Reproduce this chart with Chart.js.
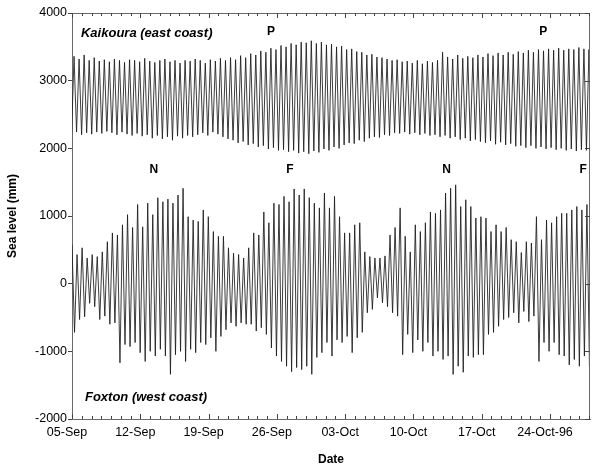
<!DOCTYPE html>
<html>
<head>
<meta charset="utf-8">
<script src="https://cdn.jsdelivr.net/npm/chart.js@4/dist/chart.umd.min.js"></script>
<style>
  html, body { margin: 0; padding: 0; background: #fff; }
  #wrap { width: 600px; height: 467px; }
</style>
</head>
<body>
<div id="wrap"><canvas id="c" width="600" height="467"></canvas></div>
<script>
// ---------- DATA ----------
// x axis: days since 05-Sep-1996 00:00
const dateTickDays   = [0, 7, 14, 21, 28, 35, 42, 49];
const dateTickLabels = ['05-Sep', '12-Sep', '19-Sep', '26-Sep', '03-Oct', '10-Oct', '17-Oct', '24-Oct-96'];
const levelTicks     = [-2000, -1000, 0, 1000, 2000, 3000, 4000];

// semidiurnal tide: one high and one low per tidal cycle
const tidalPeriodDays = 0.5175;
const foxtonFirstHighDay = 0.0;
const kaikouraFirstLowDay = -0.05;

// Foxton (west coast): successive high waters (mm)
const foxtonHigh = [
  575, 430, 530, 380, 430, 400, 470, 620, 750, 720,
  870, 1020, 830, 1170, 840, 1190, 1020, 1270, 1210, 1250,
  1190, 1310, 1410, 990, 940, 920, 1090, 990, 770, 700,
  700, 530, 450, 430, 380, 530,
  750, 720, 1060, 900, 1190, 1170, 1290, 1210, 1400, 1310,
  1400, 1270, 1190, 1120, 1340, 1120, 1290, 990, 750, 750,
  870, 900, 470, 400, 380, 380, 410, 720, 830, 1120,
  700, 470, 870, 770, 900, 1060, 1040, 1090, 1340, 1410,
  1460, 1140, 1240, 1140, 970, 990, 970, 770, 870, 770,
  830, 650, 620, 460, 620, 600, 990, 650, 940, 900,
  990, 1040, 1040, 1090, 1140, 1090, 1170, 1150
];
// Foxton: successive low waters (mm)
const foxtonLow = [
  -720, -530, -490, -290, -340, -530, -480, -600, -580, -1170,
  -900, -930, -870, -1020, -1150, -1000, -1070, -970, -1070, -1340,
  -1050, -1000, -1150, -970, -1020, -870, -900, -800, -1000, -780,
  -680, -580, -630, -580, -600,
  -600, -700, -650, -750, -950, -1070, -1150, -1220, -1300, -1240,
  -1270, -1220, -1340, -1090, -1020, -870, -1070, -830, -870, -780,
  -1020, -800, -720, -430, -380, -210, -280, -340, -430, -480, -1050, -750, -1020,
  -830, -1000, -870, -1070, -1000, -1120, -1070, -1340, -1220, -1310,
  -1070, -1090, -1050, -1050, -750, -720, -630, -530, -500, -430,
  -580, -410, -560, -480, -1150, -870, -1000, -870, -1050, -1070,
  -1200, -1120, -1220, -1070, -1220, -1150
];

// Kaikoura (east coast): successive low waters (mm)
const kaikouraLow = [
  2170, 2240, 2200, 2230, 2210, 2240,
  2220, 2250, 2230, 2200, 2240, 2210,
  2190, 2220, 2180, 2200, 2150, 2190,
  2140, 2170, 2120, 2180, 2150, 2190,
  2170, 2200, 2230, 2190, 2240, 2210,
  2170, 2140, 2120, 2080, 2100, 2050,
  2070, 2020, 2040, 1990, 2010, 1970,
  1980, 1950, 1970, 1930, 1950, 1920,
  1960, 1940, 1990, 1970, 2020, 2000,
  2050, 2080, 2070, 2120, 2100, 2150,
  2170, 2160, 2200, 2190, 2230, 2220,
  2240, 2210, 2230, 2200, 2220, 2190,
  2200, 2170, 2190, 2150, 2170, 2130,
  2150, 2110, 2130, 2100, 2080, 2110,
  2060, 2090, 2050, 2070, 2030, 2040,
  2010, 2040, 2000, 2020, 1990, 2010,
  1980, 2000, 1970, 1990, 1960, 1980,
  1970, 1950
];
// Kaikoura: successive high waters (mm)
const kaikouraHigh = [
  3360, 3320, 3380, 3300, 3340, 3290,
  3310, 3280, 3320, 3300, 3270, 3310,
  3300, 3280, 3330, 3290, 3270, 3300,
  3320, 3280, 3300, 3260, 3300, 3290,
  3320, 3300, 3260, 3310, 3290, 3330,
  3300, 3340, 3310, 3370, 3340, 3400,
  3380, 3440, 3420, 3480, 3460, 3520,
  3500, 3550, 3530, 3570, 3560, 3590,
  3550, 3570, 3530, 3540, 3500, 3510,
  3460, 3470, 3430, 3420, 3380, 3390,
  3350, 3340, 3320, 3300, 3310, 3280,
  3290, 3260, 3300, 3250, 3290, 3270,
  3300, 3420, 3350, 3320, 3380, 3330,
  3360, 3340, 3380, 3350, 3400, 3370,
  3410, 3380, 3420, 3390, 3430, 3410,
  3450, 3420, 3460, 3440, 3470, 3450,
  3480, 3450, 3470, 3460, 3490, 3470,
  3460, 3480
];

// annotations
const stationLabels = [
  { text: 'Kaikoura (east coast)', day: 0.92, level: 3705 },
  { text: 'Foxton (west coast)',   day: 1.33, level: -1675 }
];
const phaseLabels = [
  { text: 'P', day: 20.4, level: 3720 },
  { text: 'P', day: 48.3, level: 3720 },
  { text: 'N', day: 8.4,  level: 1680 },
  { text: 'F', day: 22.35, level: 1680 },
  { text: 'N', day: 38.4, level: 1680 },
  { text: 'F', day: 52.4, level: 1680 }
];

// ---------- BUILD ----------
function alternate(t0, first, second) {
  const pts = [];
  const half = tidalPeriodDays / 2;
  for (let k = 0; k < first.length; k++) {
    pts.push({ x: t0 + k * tidalPeriodDays, y: first[k] });
    if (k < second.length) pts.push({ x: t0 + k * tidalPeriodDays + half, y: second[k] });
  }
  return pts;
}

const AXIS = '#6a6a6a';
const FONT = '"Liberation Sans", Arial, sans-serif';

const framePlugin = {
  id: 'frame',
  afterDatasetsDraw(chart) {
    const { ctx, chartArea: a, scales: { x, y } } = chart;
    ctx.save();
    ctx.strokeStyle = AXIS;
    ctx.lineWidth = 1;
    ctx.beginPath();
    ctx.moveTo(a.left, a.top + 0.5); ctx.lineTo(a.right, a.top + 0.5);
    ctx.moveTo(a.right - 0.5, a.top); ctx.lineTo(a.right - 0.5, a.bottom);
    ctx.stroke();
    ctx.strokeStyle = '#444';
    ctx.beginPath();
    for (let d = 0; d <= Math.floor(x.max); d++) {
      const px = Math.round(x.getPixelForValue(d)) + 0.5;
      const len = (d % 7 === 0) ? 5 : 3;
      ctx.moveTo(px, a.bottom); ctx.lineTo(px, a.bottom - len);
      ctx.moveTo(px, a.top); ctx.lineTo(px, a.top + len);
    }
    levelTicks.forEach(v => {
      const py = Math.round(y.getPixelForValue(v)) + 0.5;
      ctx.moveTo(a.right, py); ctx.lineTo(a.right - 5, py);
    });
    ctx.stroke();

    ctx.fillStyle = '#000';
    ctx.textBaseline = 'middle';
    ctx.textAlign = 'left';
    ctx.font = 'italic bold 13px ' + FONT;
    stationLabels.forEach(l => {
      ctx.fillText(l.text, x.getPixelForValue(l.day), y.getPixelForValue(l.level));
    });
    ctx.textAlign = 'center';
    ctx.font = 'bold 12px ' + FONT;
    phaseLabels.forEach(l => {
      ctx.fillText(l.text, x.getPixelForValue(l.day), y.getPixelForValue(l.level));
    });
    ctx.restore();
  }
};

new Chart(document.getElementById('c'), {
  type: 'line',
  data: {
    datasets: [
      {
        label: 'Kaikoura (east coast)',
        data: alternate(kaikouraFirstLowDay, kaikouraLow, kaikouraHigh),
        borderColor: '#1a1a1a', borderWidth: 0.85, pointRadius: 0, tension: 0, clip: 0
      },
      {
        label: 'Foxton (west coast)',
        data: alternate(foxtonFirstHighDay, foxtonHigh, foxtonLow),
        borderColor: '#1a1a1a', borderWidth: 0.85, pointRadius: 0, tension: 0, clip: 0
      }
    ]
  },
  options: {
    responsive: false,
    animation: false,
    devicePixelRatio: 1,
    layout: { padding: { top: 13, right: 10, left: 0, bottom: 0 } },
    plugins: { legend: { display: false }, tooltip: { enabled: false } },
    scales: {
      x: {
        type: 'linear',
        min: 0, max: 53.1,
        afterBuildTicks: s => { s.ticks = dateTickDays.map(v => ({ value: v })); },
        afterFit: s => { s.height = 48; },
        grid: { display: false, drawTicks: false },
        border: { display: true, color: AXIS, width: 1 },
        ticks: {
          autoSkip: false, maxRotation: 0, padding: 6, labelOffset: -5,
          color: '#000', font: { family: FONT, size: 12.5 },
          callback: v => dateTickLabels[dateTickDays.indexOf(v)]
        },
        title: { display: true, text: 'Date', color: '#000', padding: { top: 0, bottom: 0 },
                 font: { family: FONT, size: 12, weight: 'bold' } }
      },
      y: {
        type: 'linear',
        min: -2000, max: 4000,
        afterBuildTicks: s => { s.ticks = levelTicks.map(v => ({ value: v })); },
        afterFit: s => { s.width = 72; },
        grid: { drawOnChartArea: false, drawTicks: true, tickLength: 4, color: '#444' },
        border: { display: true, color: AXIS, width: 1 },
        ticks: {
          padding: 1, color: '#000', font: { family: FONT, size: 12.5 },
          callback: v => String(v)
        },
        title: { display: true, text: 'Sea level (mm)', color: '#000', padding: { top: 5, bottom: 0 },
                 font: { family: FONT, size: 12, weight: 'bold' } }
      }
    }
  },
  plugins: [framePlugin]
});
</script>
</body>
</html>
